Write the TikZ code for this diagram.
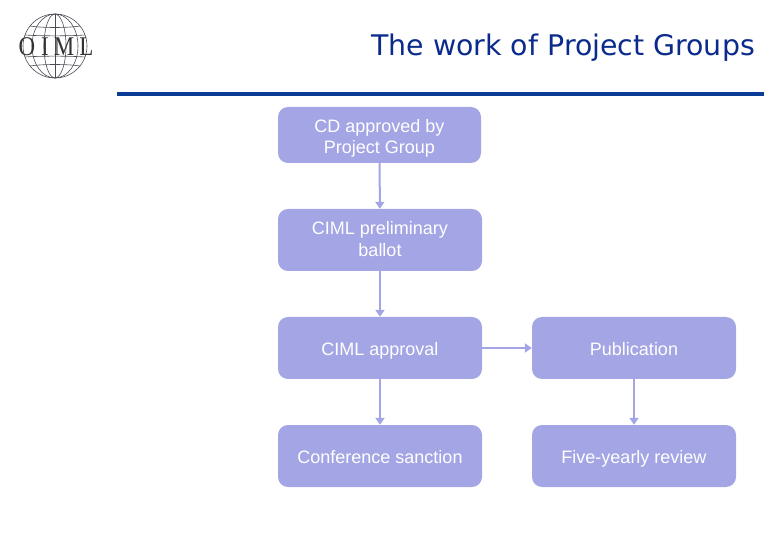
\documentclass[tikz,border=0pt]{standalone}
\usepackage{fontspec}
\setmainfont{Liberation Sans}
\newfontfamily\titlefont{DejaVu Sans}
\newfontfamily\logofont{Liberation Serif}
\usetikzlibrary{arrows.meta}
\definecolor{boxfill}{HTML}{A3A5E4}
\definecolor{rulecol}{HTML}{0A3C96}
\definecolor{titlecol}{HTML}{0A2A8C}
\definecolor{logoline}{HTML}{4A4A55}
\tikzset{
  x=1pt,y=-1pt,
  flowbox/.style={rounded corners=10pt,fill=boxfill,draw=none,text=white,inner sep=0pt,
    font=\fontsize{18}{21.5}\selectfont},
  flowarrow/.style={draw=boxfill,line width=2pt,-{Triangle[length=7pt,width=9pt]}},
  logoarc/.style={draw=logoline,line width=0.6pt},
}
\newcommand{\flownode}[7]{\node[flowbox,minimum width=#4pt-#2pt,minimum height=#5pt-#3pt] (#1) at ({(#2+#4)/2},{(#3+#5)/2}) {\raisebox{-#6pt}[\height][\depth]{\begin{tabular}{@{}c@{}}#7\end{tabular}}};}
\begin{document}
\begin{tikzpicture}
\useasboundingbox (0,0) rectangle (780,540);
% logo
\begin{scope}[shift={(55,46)}]
  \draw[logoarc] (0,0) circle [radius=32];
  \foreach \r in {11,23}{\draw[logoarc] (0,0) ellipse [x radius=\r,y radius=32];}
  \draw[logoarc] (0,-32) -- (0,32);
  \foreach \y/\w in {-20/25,20/25,-11/30,11/30}{\draw[logoarc] (-\w,\y) .. controls (-\w/2,\y*0.9) and (\w/2,\y*0.9) .. (\w,\y);}
\end{scope}
\node[text=black!80,font=\logofont\fontsize{27}{27}\selectfont,inner sep=0pt,xscale=0.85,transform shape] (logotext) at (56,46.5) {O\hspace{7pt}I\hspace{6pt}M\hspace{6pt}L};
% title
\node[anchor=east,text=titlecol,font=\titlefont\fontsize{28.4}{32}\selectfont,inner sep=0pt] (title) at (755,48) {The work of Project Groups};
\fill[rulecol] (117,92) rectangle (764,96);
% boxes
\flownode{cd}{278}{107}{481}{163}{3.5}{CD approved by\\Project Group}
\flownode{prelim}{278}{209}{482}{271}{1}{CIML preliminary\\ballot}
\flownode{approval}{278}{317}{482}{379}{3}{CIML approval}
\flownode{conf}{278}{425}{482}{487}{3}{Conference sanction}
\flownode{pub}{532}{317}{736}{379}{3}{Publication}
\flownode{five}{532}{425}{736}{487}{3}{Five-yearly review}
% arrows
\draw[flowarrow] (cd) -- (prelim);
\draw[flowarrow] (prelim) -- (approval);
\draw[flowarrow] (approval) -- (conf);
\draw[flowarrow] (approval) -- (pub);
\draw[flowarrow] (pub) -- (five);
\end{tikzpicture}
\end{document}
